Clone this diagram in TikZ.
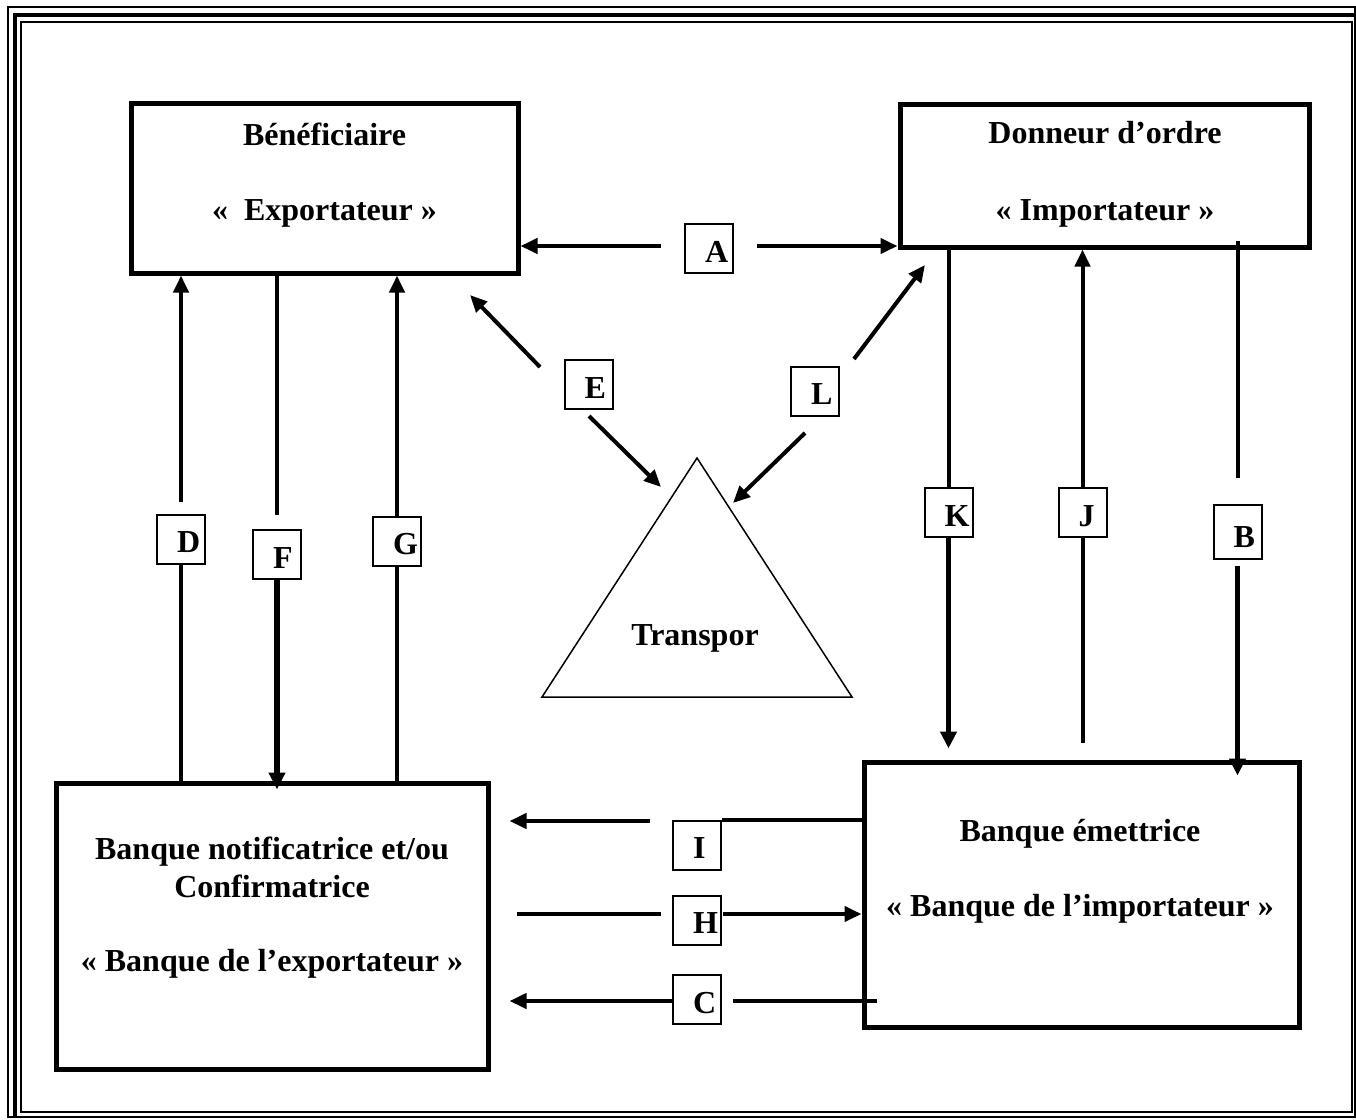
\documentclass[tikz,border=0pt]{standalone}
\usepackage{fontspec}
\setmainfont{Liberation Serif}
\usetikzlibrary{arrows.meta,calc}
\begin{document}
\begin{tikzpicture}[x=1pt,y=-1pt,
  bigbox/.style={draw,line width=5pt,inner sep=0pt},
  lab/.style={draw,line width=2pt,minimum width=48pt,minimum height=49pt,inner sep=0pt},
  ltr/.style={anchor=base west,inner sep=0pt,font=\fontsize{32}{38}\selectfont\bfseries},
  txt/.style={anchor=base,inner sep=0pt,font=\fontsize{32}{38}\selectfont\bfseries},
  con/.style={line width=4pt},
  conthick/.style={line width=5.5pt},
  arr/.style={line width=4pt,-{Triangle[length=17pt,width=15pt]}},
  arrthick/.style={line width=5.5pt,-{Triangle[length=17pt,width=16pt]}},
  thin/.style={line width=1.5pt}
]
\useasboundingbox (0,0) rectangle (1356,1119);
% page border
\draw[thin] (8,7) rectangle (1355,1117);
\draw[line width=4pt] (15,1117) -- (15,15) -- (1355,15);
\draw[thin] (21,22) rectangle (1352,1112);

% main boxes
\node[bigbox,minimum width=387pt,minimum height=170pt] (ben) at (324.5,188) {};
\node[bigbox,minimum width=409pt,minimum height=143pt] (don) at (1104.5,175.5) {};
\node[bigbox,minimum width=432pt,minimum height=286pt] (bankL) at (272,926) {};
\node[bigbox,minimum width=435pt,minimum height=265pt] (bankR) at (1081.5,894.5) {};

% texts
\node[txt] (ben1) at (324.5,145) {Bénéficiaire};
\node[txt] (ben2) at (324.5,220) {«~~Exportateur »};
\node[txt] (don1) at (1105,143) {Donneur d’ordre};
\node[txt] (don2) at (1105,220) {« Importateur »};
\node[txt] (bl1) at (272,859) {Banque notificatrice et/ou};
\node[txt] (bl2) at (272,897) {Confirmatrice};
\node[txt] (bl3) at (272,971) {« Banque de l’exportateur »};
\node[txt] (br1) at (1080,841) {Banque émettrice};
\node[txt] (br2) at (1080,916) {« Banque de l’importateur »};

% transport triangle
\coordinate (t1) at (697,458);
\coordinate (t2) at (542,697);
\coordinate (t3) at (852,697);
\draw[thin,line join=miter] (t1) -- (t2) -- (t3) -- cycle;
\node[txt] (tr) at (695,645) {Transpor};

% label boxes
\node[lab] (A) at (709,248.5) {};
\node[lab] (E) at (588.5,384.5) {};
\node[lab] (L) at (815,391) {};
\node[lab] (D) at (181,539) {};
\node[lab] (F) at (277,554.5) {};
\node[lab] (G) at (397,541) {};
\node[lab] (K) at (948.5,512.5) {};
\node[lab] (J) at (1082.5,512.5) {};
\node[lab,minimum height=54pt] (B) at (1237.5,531.5) {};
\node[lab] (I) at (697,845) {};
\node[lab] (H) at (697,920) {};
\node[lab] (C) at (697,999.5) {};

\foreach \n in {A,E,L,D,F,G,K,J,B,I,H,C}{
  \node[ltr] (t\n) at ($(\n.south west)+(21,-12)$) {\n};
}

% A
\coordinate (aL) at (661,246);
\coordinate (aR) at (757,246);
\draw[arr] (aL) -- (aL -| ben.east);
\draw[arr] (aR) -- (aR -| don.west);

% E
\coordinate (e1) at (540,367);
\coordinate (e1t) at (470,295);
\coordinate (e2) at (589,416);
\coordinate (e2t) at (661,487);
\draw[arr] (e1) -- (e1t);
\draw[arr] (e2) -- (e2t);

% L
\coordinate (l1) at (854,359);
\coordinate (l1t) at (925,265);
\coordinate (l2) at (805,433);
\coordinate (l2t) at (733,503);
\draw[arr] (l1) -- (l1t);
\draw[arr] (l2) -- (l2t);

% D
\draw[con] (D.south) -- (D.south |- bankL.north);
\draw[arr] ($(D.north)+(0,-12)$) -- (D.north |- ben.south);
% F
\draw[con] (F.north |- ben.south) -- ($(F.north)+(0,-14)$);
\draw[arrthick] (F.south) -- ($(F.south |- bankL.north)+(0,9)$);
% G
\draw[con] (G.south |- bankL.north) -- (G.south);
\draw[arr] (G.north) -- (G.north |- ben.south);
% K
\draw[con] (K.north |- don.south) -- (K.north);
\draw[arrthick] (K.south) -- ($(K.south |- bankR.north)+(0,-11)$);
% J
\draw[con] ($(J.south |- bankR.north)+(0,-17)$) -- (J.south);
\draw[arr] (J.north) -- (J.north |- don.south);
% B
\draw[con] ($(B.north |- don.south)+(0,-9)$) -- ($(B.north)+(0,-26)$);
\draw[arrthick] ($(B.south)+(0,6)$) -- ($(B.south |- bankR.north)+(0,16)$);

% I
\coordinate (i1) at (650,821);
\draw[con] (I.north east) -- (I.north east -| bankR.west);
\draw[arr] (i1) -- ($(i1 -| bankL.east)+(19,0)$);
% H
\coordinate (h1) at (517,914);
\coordinate (h2) at (661,914);
\coordinate (h3) at (723,914);
\draw[con] (h1) -- (h2);
\draw[arr] (h3) -- (h3 -| bankR.west);
% C
\coordinate (c1) at (733,1001);
\coordinate (c2) at (877,1001);
\draw[arr] (C.west |- c1) -- ($(c1 -| bankL.east)+(19,0)$);
\draw[con] (c1) -- (c2);
\end{tikzpicture}
\end{document}
